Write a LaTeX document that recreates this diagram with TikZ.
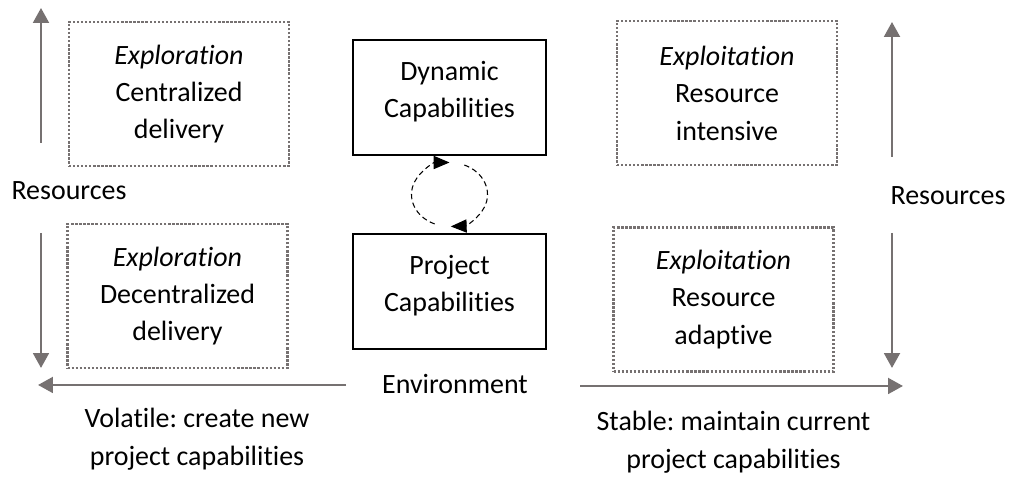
\documentclass[tikz,border=0pt]{standalone}
\usepackage{fontspec}
\setmainfont{Carlito}[Ligatures={NoCommon}]
\usepackage{xcolor}
\usepackage{tikz}
\usetikzlibrary{arrows.meta,calc}
\definecolor{axisgray}{RGB}{118,113,113}
\frenchspacing

\begin{document}
\begin{tikzpicture}[
		every node/.style={font=\fontsize{15.9}{21.3}\selectfont, align=center},
		modebox/.style={draw=axisgray, line width=1.4pt, dash pattern=on 1.3pt off 1pt, minimum width=4.4cm, minimum height=2.88cm},
		capbox/.style={draw, line width=1.6pt, minimum width=3.86cm, minimum height=2.3cm},
		axisarrow/.style={draw=axisgray, line width=1.4pt, -{Triangle[length=8.5pt,width=9pt,fill=axisgray]}},
		cyclearrow/.style={draw, line width=0.6pt, dash pattern=on 3pt off 2pt, -{Triangle[length=9pt,width=7.5pt]}}
	]
		\useasboundingbox (0,0) rectangle (20.28,9.54);
		% MODE BOXES
		\node[modebox] (explorTop) at (3.58,7.66) {\textit{Exploration}\\Centralized\\delivery};
		\node[modebox] (exploitTop) at (14.54,7.68) {\textit{Exploitation}\\Resource\\intensive};
		\node[modebox] (explorBot) at (3.55,3.62) {\textit{Exploration}\\Decentralized\\delivery};
		\node[modebox] (exploitBot) at (14.47,3.55) {\textit{Exploitation}\\Resource\\adaptive};
		% CAPABILITIES
		\node[capbox] (dyn) at (8.99,7.59) {};
		\node (dyntext) at ([yshift=0.12cm]dyn.center) {Dynamic\\Capabilities};
		\node[capbox] (proj) at (8.99,3.71) {};
		\node (projtext) at ([yshift=0.12cm]proj.center) {Project\\Capabilities};
		\coordinate (loopc) at ($(dyn.south)!0.5!(proj.north)$);
		\draw[cyclearrow] (loopc) ++(247:0.76 and 0.64) arc[start angle=247, end angle=90, x radius=0.76, y radius=0.64];
		\draw[cyclearrow] (loopc) ++(67:0.76 and 0.64) arc[start angle=67, end angle=-88, x radius=0.76, y radius=0.64];
		% RESOURCES AXES
		\coordinate (leftUpS) at (0.82,6.68);
		\coordinate (leftUpE) at (0.82,9.38);
		\coordinate (leftDnS) at (0.82,4.88);
		\coordinate (leftDnE) at (0.82,2.18);
		\coordinate (rightUpS) at (17.84,6.40);
		\coordinate (rightUpE) at (17.84,9.10);
		\coordinate (rightDnS) at (17.84,4.88);
		\coordinate (rightDnE) at (17.84,2.18);
		\draw[axisarrow] (leftUpS) -- (leftUpE);
		\draw[axisarrow] (leftDnS) -- (leftDnE);
		\draw[axisarrow] (rightUpS) -- (rightUpE);
		\draw[axisarrow] (rightDnS) -- (rightDnE);
		\node[anchor=base] (resLeft) at (1.38,5.54) {Resources};
		\node[anchor=base] (resRight) at (18.96,5.44) {Resources};
		% ENVIRONMENT AXIS
		\coordinate (envLeftS) at (6.92,1.84);
		\coordinate (envLeftE) at (0.76,1.84);
		\coordinate (envRightS) at (11.60,1.82);
		\coordinate (envRightE) at (18.06,1.82);
		\draw[axisarrow] (envLeftS) -- (envLeftE);
		\draw[axisarrow] (envRightS) -- (envRightE);
		\node[anchor=base] (env) at (9.10,1.66) {Environment};
		\node (volatile) at (3.94,0.76) {Volatile: create new\\project capabilities};
		\node (stable) at (14.67,0.70) {Stable: maintain current\\project capabilities};
	\end{tikzpicture}
\end{document}
